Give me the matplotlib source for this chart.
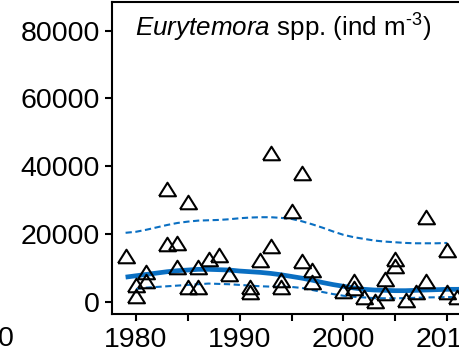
import numpy as np
import matplotlib
matplotlib.use("Agg")
import matplotlib.pyplot as plt

plt.rcParams['font.family'] = ['Liberation Sans', 'DejaVu Sans']
plt.rcParams['mathtext.fontset'] = 'custom'
plt.rcParams['mathtext.rm'] = 'Liberation Sans'
plt.rcParams['mathtext.it'] = 'Liberation Sans:italic'

# observed abundances (ind m-3), one entry per sample
obs_year = [1979, 1980, 1980, 1981, 1981, 1983, 1983, 1984, 1984, 1985, 1985,
            1986, 1986, 1987, 1988, 1989, 1991, 1991, 1992, 1993, 1993,
            1994, 1994, 1995, 1996, 1996, 1997, 1997, 2000, 2001, 2001,
            2002, 2003, 2004, 2004, 2005, 2005, 2006, 2007, 2008, 2008,
            2010, 2010, 2011]
obs_value = [13400, 4900, 1600, 8600, 6000, 33100, 17000, 17400, 10100, 29500, 4400,
             10100, 4200, 12500, 13700, 8200, 4400, 2900, 12300, 43800, 16400,
             6300, 4400, 26700, 37900, 12000, 9300, 5900, 3200, 6100, 3900,
             1400, 100, 6700, 2400, 12500, 10500, 500, 2700, 25000, 6000,
             15200, 2800, 1200]

# smoothed trend and its confidence band
fit_year = list(range(1979, 2013))
fit_mid = [7200, 7600, 8000, 8400, 8800, 9100, 9300, 9500, 9500, 9400,
           9300, 9000, 8800, 8600, 8300, 7900, 7400, 6900, 6300, 5600,
           5000, 4500, 4000, 3600, 3400, 3300, 3200, 3200, 3300, 3400,
           3500, 3600, 3600, 3700]

up_year = list(range(1979, 2011))
fit_up = [20300, 20600, 21200, 21900, 22600, 23200, 23600, 23900, 24000, 24100,
          24300, 24600, 24800, 24900, 24900, 24700, 24400, 23700, 22800, 21800,
          20700, 19700, 19000, 18500, 18000, 17700, 17500, 17300, 17200, 17200,
          17200, 17300]

lo_year = list(range(1980, 2012))
fit_lo = [3700, 4100, 4300, 4500, 4700, 4900, 5100, 5300, 5200, 5100,
          4900, 4700, 4500, 4400, 4400, 4300, 4000, 3400, 2800, 2200,
          1700, 1400, 1200, 1000, 950, 950, 1000, 1100, 1200, 1250,
          1300, 1300]

blue = '#0a6fc2'

fig = plt.figure(figsize=(4.6, 3.58), dpi=100)
ax = fig.add_axes([112 / 460, 44 / 358, 0.8187, 312 / 358])

ax.plot(fit_year, fit_mid, color=blue, lw=3.4, solid_capstyle='butt', zorder=2)
ax.plot(up_year, fit_up, color=blue, lw=1.5, dashes=(3, 1.7), zorder=2)
ax.plot(lo_year, fit_lo, color=blue, lw=1.5, dashes=(3, 1.7), zorder=2)

tri = [(-1, -0.8), (1, -0.8), (0, 0.8), (-1, -0.8)]
ax.plot(obs_year, obs_value, linestyle='none', marker=tri, ms=12.2,
        mfc='none', mec='black', mew=1.5, zorder=3)

ax.set_xlim(1977.69, 2014)
ax.set_ylim(-3690, 88480)

ax.set_xticks(range(1980, 2015, 5))
ax.set_xticklabels(['1980', '', '1990', '', '2000', '', '2010'])
ax.set_yticks([0, 20000, 40000, 60000, 80000])
ax.set_yticklabels(['0', '20000', '40000', '60000', '80000'])
ax.tick_params(labelsize=20.5, width=1.5, length=5, color='black')
ax.tick_params(axis='x', pad=4.5)
ax.tick_params(axis='y', pad=3.5)

for s in ax.spines.values():
    s.set_linewidth(1.5)
ax.spines['right'].set_visible(False)

fig.text(135 / 460, 1 - 37 / 358,
         r'$\mathit{Eurytemora}$ spp. (ind m$^{\text{-3}}$)',
         fontsize=18.7, va='baseline', ha='left')

# last digit of the neighbouring panel's axis label
fig.text(13.5 / 460, 1 - 326 / 358, '0', fontsize=20.5, ha='right', va='top')

fig.savefig('out.png', dpi=100)
